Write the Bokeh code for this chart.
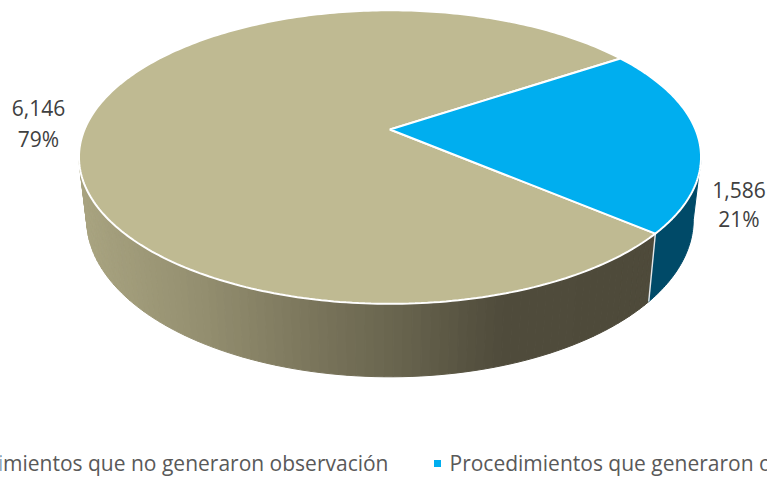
import numpy as np
from bokeh.plotting import figure
from bokeh.models import Range1d
from bokeh.core.properties import value
from bokeh.embed import file_html
from bokeh.resources import INLINE

categories = ["Procedimientos que no generaron observación", "Procedimientos que generaron observación"]
values = [6146, 1586]
value_labels = ["6,146", "1,586"]
pct_labels = ["79%", "21%"]
top_colors = ["#BFBA92", "#00AEEF"]

W, H = 767, 478
p = figure(width=W, height=H, output_backend="svg", toolbar_location=None,
           x_range=Range1d(0, W), y_range=Range1d(H, 0))
p.axis.visible = False
p.grid.visible = False
p.outline_line_color = None
p.min_border = 0

# perspective disc -> picture
AX, AY = 389.5, 129.0
A, B, K = 305.5, 141.6, 0.1877
START = 33.6
def rim_top(theta):
    u, v = np.cos(theta), np.sin(theta)
    d = 1 + K * v
    return AX + A * u / d, AY - B * v / d
def rim_bottom(theta):
    x, y = rim_top(theta)
    return AX + 0.975 * (x - AX), 300 + 1.07 * (y - 232)

fr = np.array(values) / sum(values)
blue_a0 = np.radians(START)
blue_a1 = blue_a0 - 2 * np.pi * fr[1]
EXT = np.arcsin(K)

# side wall of the tan slice
side_stops_x = [85, 200, 300, 400, 500, 650]
side_stops_c = [(168, 163, 128), (148, 143, 112), (125, 120, 94), (104, 100, 78), (80, 76, 60), (78, 74, 58)]
t_tan = np.linspace(np.pi + EXT, 2 * np.pi + blue_a1, 90)
xs, ys, cols = [], [], []
for a, b in zip(t_tan[:-1], t_tan[1:]):
    xa, ya = rim_top(a); xb, yb = rim_top(b)
    xc, yc = rim_bottom(b); xd, yd = rim_bottom(a)
    xs.append([xa, xb, xc, xd]); ys.append([ya, yb, yc, yd])
    xm = (xa + xb) / 2
    c = [int(np.interp(xm, side_stops_x, [s[i] for s in side_stops_c])) for i in range(3)]
    cols.append("#%02x%02x%02x" % tuple(c))
p.patches(xs, ys, fill_color=cols, line_color=cols, line_width=1)

# side wall of the blue slice
t_blue = np.linspace(blue_a1, -EXT, 40)
xt, yt = rim_top(t_blue)
xb_, yb_ = rim_bottom(t_blue)
p.patch(np.r_[xt, xb_[::-1]], np.r_[yt, yb_[::-1]], fill_color="#004A68", line_color="#004A68")
# seam between walls
sx0, sy0 = rim_top(blue_a1); sx1, sy1 = rim_bottom(blue_a1)
p.line([sx0, sx1], [sy0, sy1], line_color="#E8E8E8", line_width=1.4)

# top face
t_all = np.linspace(blue_a0, blue_a1 + 2 * np.pi, 300)
xf, yf = rim_top(t_all)
p.patch(np.r_[AX, xf], np.r_[AY, yf], fill_color=top_colors[0], line_color="white", line_width=2)
t_b = np.linspace(blue_a1, blue_a0, 100)
xf, yf = rim_top(t_b)
p.patch(np.r_[AX, xf], np.r_[AY, yf], fill_color=top_colors[1], line_color="white", line_width=2)

# labels
font = value("Open Sans")
p.text([38, 738.5], [107, 189], text=value_labels, text_font=font, text_font_size="21px",
       text_color="#404040", text_align="center", text_baseline="middle")
p.text([38, 738.5], [138, 218], text=pct_labels, text_font=font, text_font_size="21px",
       text_color="#404040", text_align="center", text_baseline="middle")

# legend
p.text([388, 449], [462, 462], text=categories, text_font=font, text_font_size="21px",
       text_color="#595959", text_align=["right", "left"], text_baseline="middle")
p.scatter([437], [463], marker="square", size=7, fill_color=top_colors[1], line_color=None)

open("out.html", "w").write(file_html(p, INLINE))
